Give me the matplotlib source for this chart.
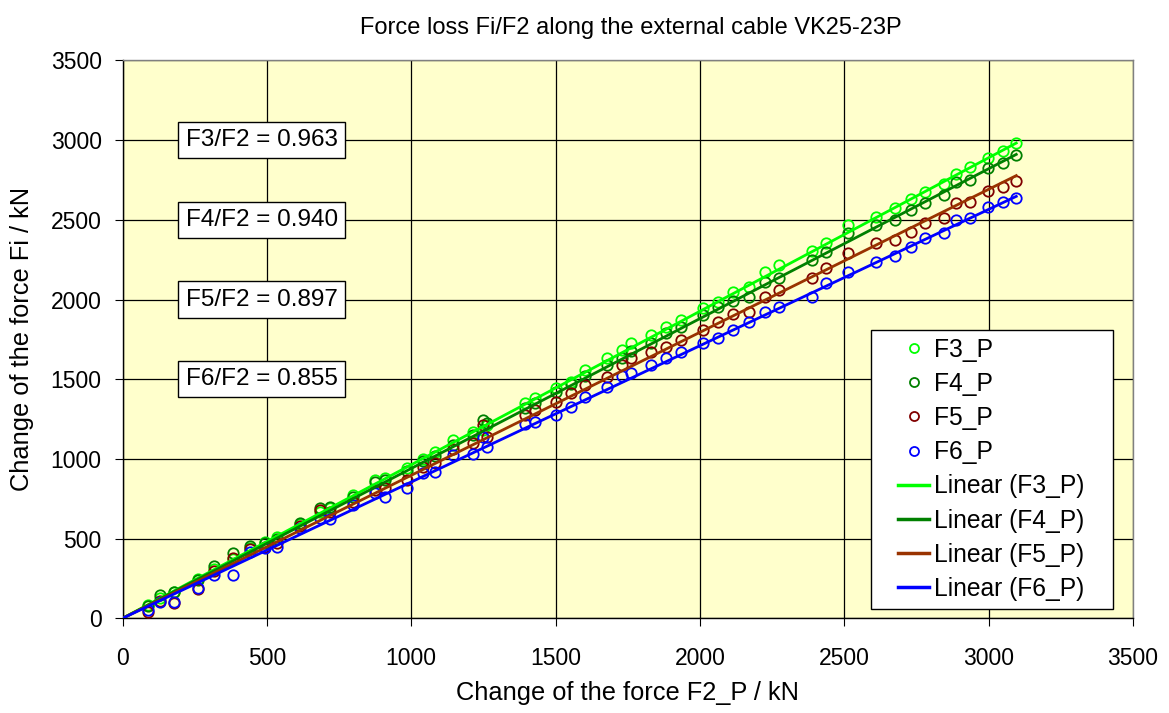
import matplotlib
matplotlib.use("Agg")
import matplotlib.pyplot as plt
from matplotlib.lines import Line2D
from matplotlib.patches import Rectangle

plt.rcParams['font.family'] = ['Liberation Sans', 'DejaVu Sans']

x_f2 = [88, 130, 178, 261, 317, 383, 441, 493, 535, 615, 684, 718, 799, 874, 909, 984,
        1042, 1082, 1145, 1215, 1250, 1262, 1394, 1428, 1503, 1555, 1601, 1677, 1729,
        1763, 1832, 1884, 1936, 2011, 2063, 2115, 2170, 2225, 2273, 2390, 2438, 2513,
        2611, 2675, 2733, 2779, 2845, 2888, 2935, 2998, 3050, 3096]
f3 = [85, 125, 165, 245, 310, 375, 440, 478, 512, 590, 670, 690, 774, 868, 878, 941,
      997, 1045, 1119, 1171, 1181, 1215, 1349, 1380, 1443, 1484, 1558, 1631, 1683,
      1725, 1777, 1829, 1871, 1945, 1986, 2049, 2080, 2175, 2217, 2304, 2352, 2467,
      2519, 2572, 2629, 2676, 2725, 2787, 2833, 2886, 2934, 2984]
f4 = [80, 146, 163, 240, 330, 408, 455, 470, 500, 596, 690, 700, 760, 855, 870, 925,
      985, 1020, 1090, 1150, 1244, 1225, 1320, 1350, 1420, 1470, 1520, 1590, 1630,
      1680, 1730, 1790, 1830, 1900, 1950, 1990, 2018, 2112, 2133, 2248, 2300, 2420,
      2467, 2499, 2561, 2604, 2656, 2739, 2750, 2823, 2854, 2905]
f5 = [40, 110, 95, 185, 299, 376, 433, 445, 470, 580, 680, 665, 730, 805, 815, 868,
      951, 972, 1060, 1098, 1213, 1140, 1275, 1307, 1359, 1411, 1464, 1516, 1589,
      1631, 1673, 1704, 1746, 1809, 1861, 1909, 1924, 2018, 2060, 2133, 2196, 2290,
      2352, 2373, 2425, 2478, 2513, 2604, 2614, 2681, 2708, 2745]
f6 = [55, 100, 100, 190, 272, 272, 418, 440, 449, 565, 627, 621, 711, 784, 763, 815,
      910, 920, 1024, 1031, 1139, 1073, 1219, 1233, 1275, 1327, 1390, 1453, 1520,
      1537, 1589, 1631, 1673, 1725, 1757, 1810, 1860, 1924, 1955, 2018, 2102, 2175,
      2237, 2270, 2330, 2384, 2415, 2499, 2509, 2578, 2614, 2635]

series_names = ["F3_P", "F4_P", "F5_P", "F6_P"]
slopes = [0.963, 0.940, 0.897, 0.855]
ratio_labels = ["F3/F2 = 0.963", "F4/F2 = 0.940", "F5/F2 = 0.897", "F6/F2 = 0.855"]
label_y = [3000, 2500, 2000, 1500]
marker_colors = ["#00FF00", "#008000", "#800000", "#0000FF"]
line_colors = ["#00FF00", "#008000", "#993300", "#0000FF"]

fig = plt.figure(figsize=(11.69, 7.13), dpi=100)
ax = fig.add_axes([0.1048, 0.1328, 0.8643, 0.7825])
ax.set_facecolor("#FFFFCC")

ys = [f3, f4, f5, f6]
for y, c in zip(ys, marker_colors):
    ax.plot(x_f2, y, linestyle='none', marker='o', markersize=7.5, markerfacecolor='none',
            markeredgecolor=c, markeredgewidth=1.3, zorder=3)
xmax = max(x_f2)
for s, c in zip(slopes, line_colors):
    ax.plot([0, xmax], [0, s * xmax], color=c, linewidth=2.0, zorder=4)

ax.set_xlim(0, 3500)
ax.set_ylim(0, 3500)
ax.set_xticks(range(0, 3501, 500))
ax.set_yticks(range(0, 3501, 500))
ax.grid(True, color='black', linewidth=0.9, zorder=1)
ax.set_axisbelow(True)
for sp in ax.spines.values():
    sp.set_color('#808080')
    sp.set_linewidth(1.0)
ax.spines['left'].set_color('black')
ax.spines['bottom'].set_color('black')
ax.tick_params(axis='both', labelsize=16.5, length=6, direction='out', color='black')
ax.tick_params(axis='x', pad=15)
ax.tick_params(axis='y', pad=9)

ax.set_xlabel("Change of the force F2_P / kN", fontsize=18.3)
ax.set_ylabel("Change of the force Fi / kN", fontsize=18.3)
ax.xaxis.set_label_coords(0.5, -0.134)
ax.xaxis.label.set_va('center')
ax.yaxis.set_label_coords(-0.0995, 0.5)
ax.yaxis.label.set_va('center')
fig.text(0.5395, 0.961, "Force loss Fi/F2 along the external cable VK25-23P", fontsize=17,
         ha='center', va='center')

for t, yv in zip(ratio_labels, label_y):
    ax.text(482, yv, t, fontsize=17.5, ha='center', va='center', zorder=5,
            bbox=dict(boxstyle='square,pad=0.3', facecolor='white', edgecolor='black',
                      linewidth=1.0))

# legend frame
ax.add_patch(Rectangle((0.7407, 0.0167), 0.2395, 0.5001, transform=ax.transAxes,
                       facecolor='white', edgecolor='black', linewidth=1.0, zorder=6))

handles = []
labels = []
for n, c in zip(series_names, marker_colors):
    handles.append(Line2D([], [], linestyle='none', marker='o', markersize=6.5,
                          markerfacecolor='none', markeredgecolor=c, markeredgewidth=1.3))
    labels.append(n)
for n, c in zip(series_names, line_colors):
    handles.append(Line2D([], [], color=c, linewidth=2.5))
    labels.append("Linear (" + n + ")")
leg = ax.legend(handles, labels, loc='upper left', bbox_to_anchor=(0.7674, 0.5033),
                fontsize=17.7, frameon=False, handlelength=1.28, handletextpad=0.2,
                labelspacing=0.415, borderpad=0, borderaxespad=0)
leg.set_zorder(7)

fig.savefig("out.png", dpi=100)
